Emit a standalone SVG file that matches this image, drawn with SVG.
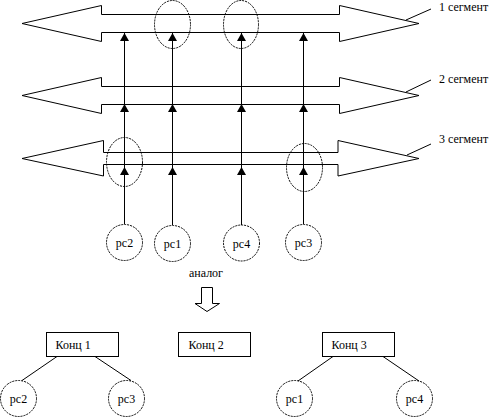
<svg xmlns="http://www.w3.org/2000/svg" width="492" height="417" viewBox="0 0 492 417">
<style>
.ln{stroke:#000;stroke-width:1;fill:none}
.dl{stroke:#000;stroke-width:1;fill:none;stroke-dasharray:2 1}
.t{font-family:'Liberation Serif','DejaVu Serif',serif;font-size:12px;fill:#000}
.c{text-anchor:middle}
</style>
<defs>
<polygon id="tri" points="0,0 -4.5,8 4.5,8" fill="#000"/>
</defs>
<rect width="492" height="417" fill="#fff"/>
<g id="connectors">
<line class="ln" x1="124.5" y1="33" x2="124.5" y2="224"/>
<line class="ln" x1="172.5" y1="33" x2="172.5" y2="225"/>
<line class="ln" x1="241.5" y1="33" x2="241.5" y2="225"/>
<line class="ln" x1="303.5" y1="33" x2="303.5" y2="224"/>
<use href="#tri" x="124.5" y="33"/><use href="#tri" x="172.5" y="33"/><use href="#tri" x="241.5" y="33"/><use href="#tri" x="303.5" y="33"/>
<use href="#tri" x="124.5" y="104"/><use href="#tri" x="172.5" y="104"/><use href="#tri" x="241.5" y="104"/><use href="#tri" x="303.5" y="104"/>
<use href="#tri" x="124.5" y="167"/><use href="#tri" x="172.5" y="167"/><use href="#tri" x="241.5" y="167"/><use href="#tri" x="303.5" y="167"/>
<line class="ln" x1="406" y1="20" x2="431" y2="9"/>
<line class="ln" x1="406" y1="92" x2="431" y2="80"/>
<line class="ln" x1="407" y1="155" x2="431" y2="144"/>
<line class="ln" x1="57" y1="356.5" x2="22" y2="380.5"/>
<line class="ln" x1="95" y1="356.5" x2="131" y2="380.5"/>
<line class="ln" x1="333" y1="356.5" x2="298" y2="381"/>
<line class="ln" x1="383" y1="356.5" x2="419" y2="381"/>
<polygon class="ln" points="201.5,287.5 212.5,287.5 212.5,303.5 219.5,303.5 207,311.5 195,303.5 201.5,303.5"/>
</g>
<g id="seg1">
<polygon class="ln" points="22,23.5 101.5,5.5 101.5,14.5 339.5,14.5 339.5,5.5 419,23.5 339.5,41.5 339.5,32.5 101.5,32.5 101.5,41.5"/>
<text class="t" x="439" y="11" font-family="Liberation Serif">1 сегмент</text>
</g>
<g id="seg2">
<polygon class="ln" points="22,95.5 101.5,77.5 101.5,86.5 339.5,86.5 339.5,77.5 419,95.5 339.5,113.5 339.5,104.5 101.5,104.5 101.5,113.5"/>
<text class="t" x="439" y="83">2 сегмент</text>
</g>
<g id="seg3">
<polygon class="ln" points="22,158.5 103.5,140.5 103.5,152.5 338,152.5 338,140.5 419,158.5 338,176 338,164.5 103.5,164.5 103.5,176"/>
<text class="t" x="439" y="143">3 сегмент</text>
</g>
<g id="marks">
<ellipse class="dl" cx="172.5" cy="24.5" rx="18" ry="24"/>
<ellipse class="dl" cx="241" cy="24.5" rx="17.5" ry="24"/>
<ellipse class="dl" cx="124.5" cy="162" rx="18" ry="24.5"/>
<ellipse class="dl" cx="304.5" cy="167.5" rx="18" ry="24"/>
</g>
<g id="top-pc2"><circle class="dl" cx="124.5" cy="242.5" r="18"/><text class="t c" x="124.5" y="247">pc2</text></g>
<g id="top-pc1"><circle class="dl" cx="172.5" cy="243.5" r="18"/><text class="t c" x="172.5" y="248">pc1</text></g>
<g id="top-pc4"><circle class="dl" cx="241.5" cy="243" r="18"/><text class="t c" x="241.5" y="247.5">pc4</text></g>
<g id="top-pc3"><circle class="dl" cx="303.5" cy="242.5" r="18"/><text class="t c" x="303.5" y="247">pc3</text></g>
<g id="analog"><text class="t c" x="206" y="277">аналог</text></g>
<g id="konc1"><rect class="ln" x="46.5" y="332.5" width="72" height="24"/><text class="t" x="55.5" y="349">Конц 1</text></g>
<g id="konc2"><rect class="ln" x="178.5" y="332.5" width="72" height="24"/><text class="t" x="188.5" y="349">Конц 2</text></g>
<g id="konc3"><rect class="ln" x="322.5" y="332.5" width="72" height="24"/><text class="t" x="331.5" y="349">Конц 3</text></g>
<g id="b-pc2"><circle class="dl" cx="18.5" cy="398.5" r="18"/><text class="t c" x="18.5" y="403">pc2</text></g>
<g id="b-pc3"><circle class="dl" cx="126.5" cy="398.5" r="18"/><text class="t c" x="126.5" y="403">pc3</text></g>
<g id="b-pc1"><circle class="dl" cx="294.5" cy="398.5" r="18"/><text class="t c" x="294.5" y="403">pc1</text></g>
<g id="b-pc4"><circle class="dl" cx="414.5" cy="398.5" r="18"/><text class="t c" x="414.5" y="403">pc4</text></g>
</svg>
